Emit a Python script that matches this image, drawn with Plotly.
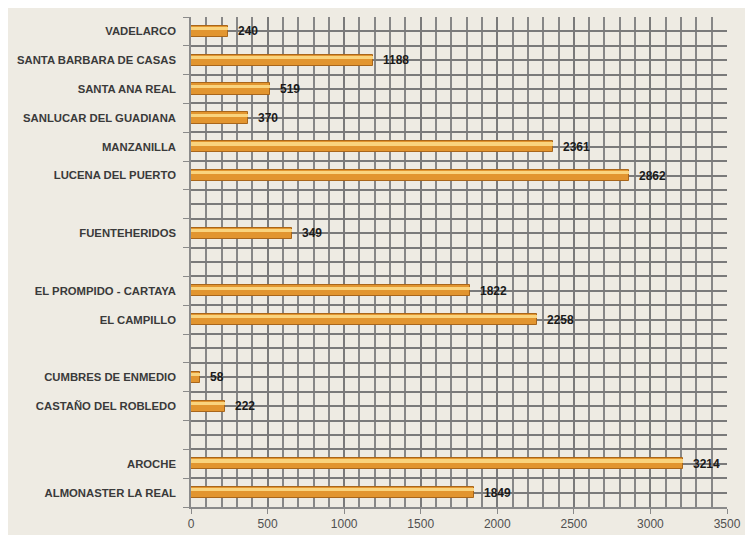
import plotly.graph_objects as go

# Slots from top to bottom; "" marks an empty row in the original chart
categories = [
    "VADELARCO", "SANTA BARBARA DE CASAS", "SANTA ANA REAL", "SANLUCAR DEL GUADIANA",
    "MANZANILLA", "LUCENA DEL PUERTO", "", "FUENTEHERIDOS", "",
    "EL PROMPIDO - CARTAYA", "EL CAMPILLO", "", "CUMBRES DE ENMEDIO",
    "CASTAÑO DEL ROBLEDO", "", "AROCHE", "ALMONASTER LA REAL",
]
# bar lengths as drawn
values = [240, 1188, 519, 370, 2361, 2862, None, 660, None,
          1822, 2258, None, 58, 222, None, 3214, 1849]
# printed value labels
labels = ["240", "1188", "519", "370", "2361", "2862", "", "349", "",
          "1822", "2258", "", "58", "222", "", "3214", "1849"]
x_ticks = [0, 500, 1000, 1500, 2000, 2500, 3000, 3500]

pos = list(range(len(categories)))
bg = "#EEEBE3"
FONT = "Liberation Sans, Arial, sans-serif"

fig = go.Figure()
# main bar body
fig.add_trace(go.Bar(
    y=pos, x=values, orientation="h", width=0.39,
    marker=dict(color="#E2952F", line=dict(color="#A9661A", width=1)),
    hoverinfo="skip",
))
# glossy highlight stripe
fig.add_trace(go.Bar(
    y=pos, x=values, orientation="h", width=0.11, offset=-0.15,
    marker=dict(color="#FAD47E", line=dict(width=0)),
    hoverinfo="skip",
))

annotations = []
for p, v, t in zip(pos, values, labels):
    if v is None:
        continue
    annotations.append(dict(
        x=v, y=p, xref="x", yref="y", text=f"<b>{t}</b>", showarrow=False,
        xanchor="left", yanchor="middle", xshift=8,
        font=dict(family=FONT, size=12, color="#1a1a1a"),
    ))

fig.update_layout(
    width=753, height=535,
    margin=dict(l=183, r=34, t=9, b=36),
    paper_bgcolor=bg, plot_bgcolor=bg,
    barmode="overlay", bargap=0, showlegend=False,
    annotations=annotations,
)
fig.update_xaxes(
    range=[0, 3500], tickvals=x_ticks, ticktext=[str(v) for v in x_ticks],
    showgrid=True, gridcolor="#7a7a7a", gridwidth=1.5,
    minor=dict(dtick=100, tick0=0, showgrid=True, gridcolor="#878787", gridwidth=1.5),
    showline=True, linecolor="#8a8a8a", linewidth=1.5,
    ticks="outside", ticklen=5, tickcolor="#8a8a8a",
    tickfont=dict(family=FONT, size=12, color="#505050"),
    zeroline=False, mirror=False,
)
fig.update_yaxes(
    range=[len(categories) - 0.5, -0.5],
    tickvals=pos, ticktext=[f"<b>{c}</b>" if c else "" for c in categories],
    showgrid=True, gridcolor="#7a7a7a", gridwidth=1.5,
    minor=dict(tick0=0.5, dtick=1, showgrid=True, gridcolor="#7a7a7a", gridwidth=1.5,
               ticks="outside", ticklen=6, tickcolor="#8a8a8a"),
    ticks="", showline=True, linecolor="#8a8a8a", linewidth=1.5,
    tickfont=dict(family=FONT, size=11.3, color="#3a3a3a"),
    ticklabelstandoff=11, zeroline=False,
)

fig.write_html("out.html")
